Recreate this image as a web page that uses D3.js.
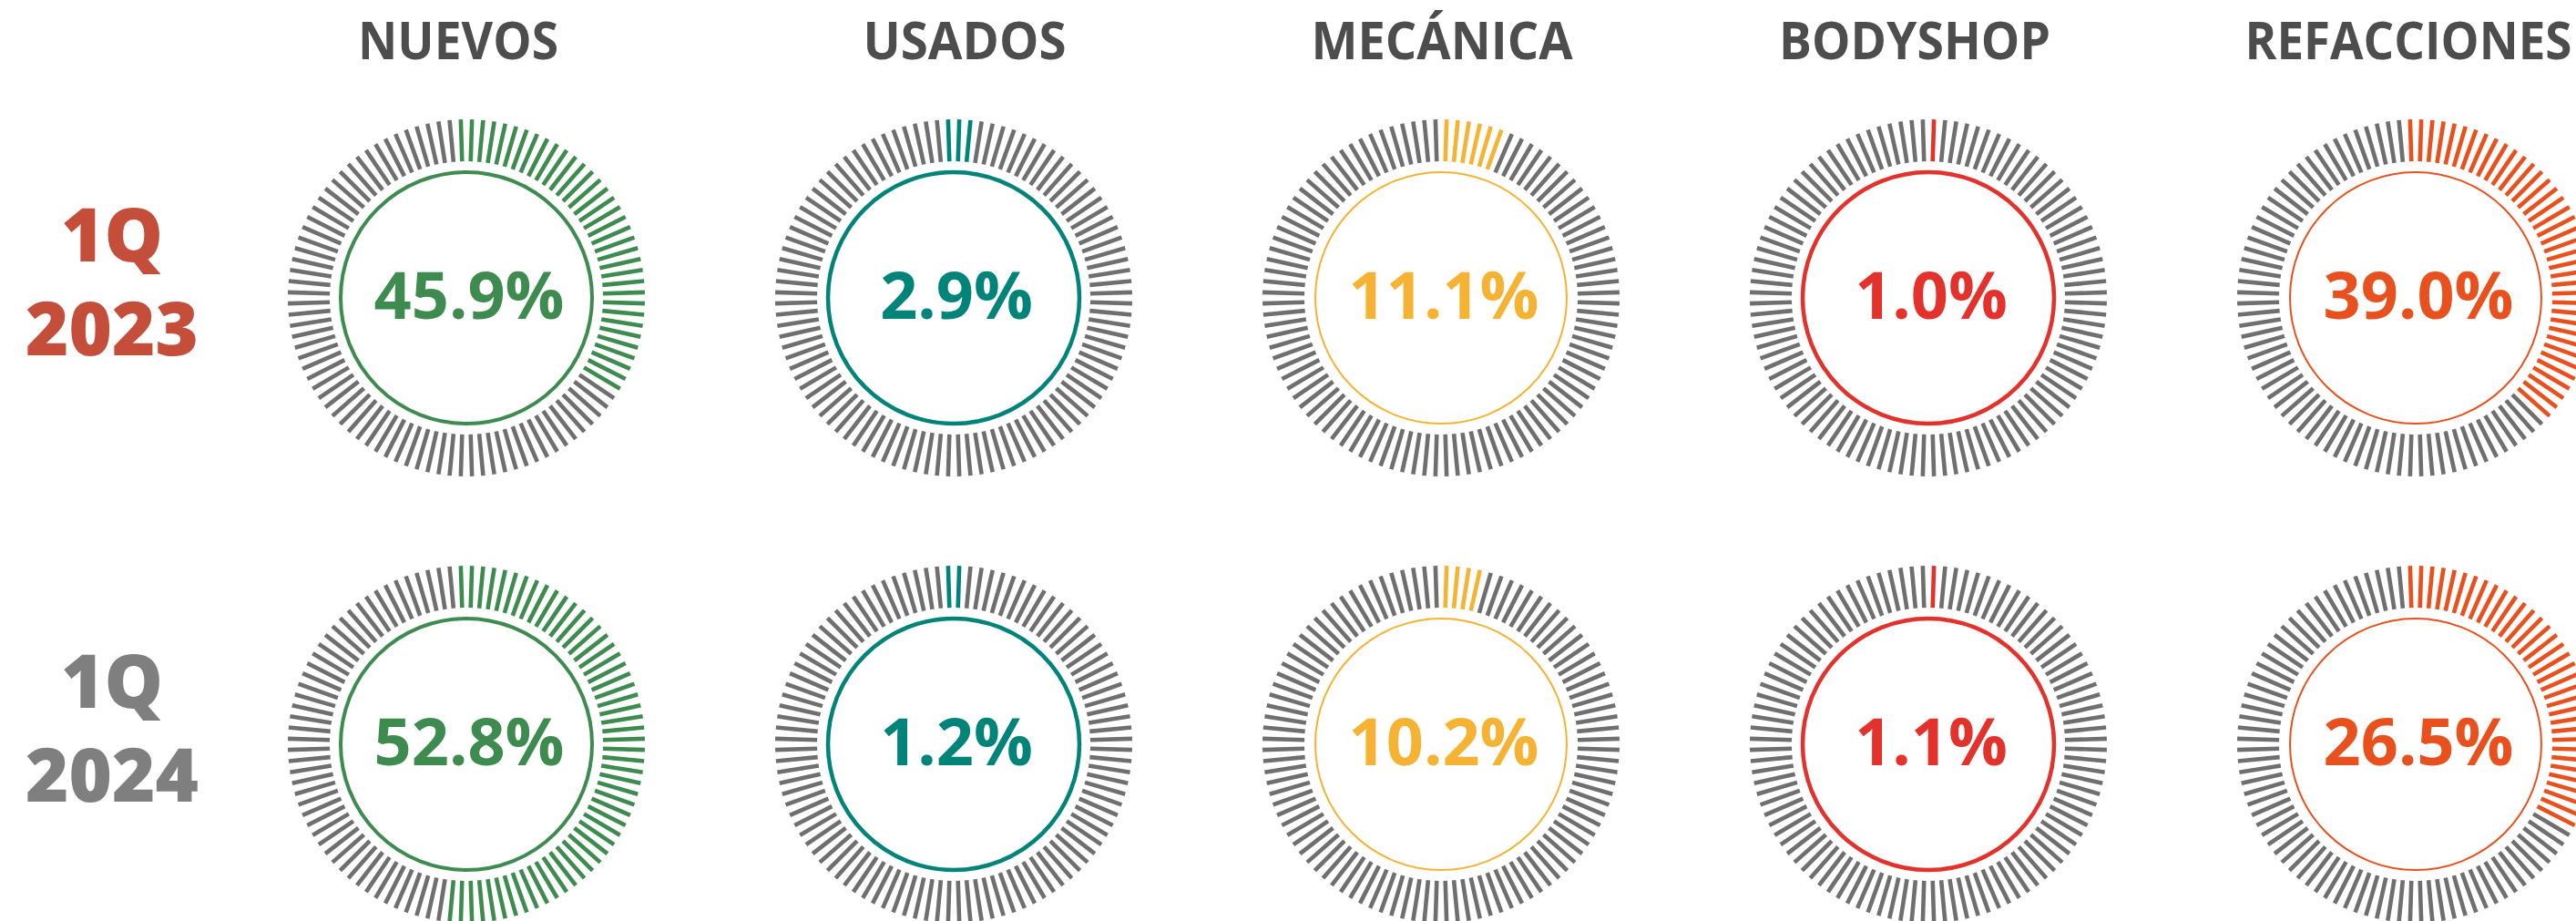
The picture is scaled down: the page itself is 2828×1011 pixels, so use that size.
<!DOCTYPE html>
<html>
<head>
<meta charset="utf-8">
<script src="https://cdn.jsdelivr.net/npm/d3@7"></script>
<style>
  body { margin: 0; background: #ffffff; }
  svg { display: block; }
</style>
</head>
<body>
<script>

// categories and periods
var categories = ["NUEVOS", "USADOS", "MECÁNICA", "BODYSHOP", "REFACCIONES"];
var periodLabels = [["1Q", "2023"], ["1Q", "2024"]];

// share per category, as printed
var values2023 = [45.9, 2.9, 11.1, 1.0, 39.0];
var values2024 = [52.8, 1.2, 10.2, 1.1, 26.5];

// ticks drawn in colour (out of 100)
var litTicks2023 = [35, 3, 6, 1, 38];
var litTicks2024 = [53, 2, 4, 1, 34];
var firstTick = [-1, -1, 0, 0, -1];

window.onload = function() {

    const width = 2828;
    const height = 1011;
    const tickCount = 100;

    var colors = ["#3e8b4f", "#00847a", "#f6b232", "#e3322b", "#e8511e"];
    var ringWidths = [4, 4.5, 2, 4.5, 2];
    var periodColors = ["#c44e3a", "#7f7f7f"];
    var grey = "#6f6f6f";

    // titles are not quite centred over the rings
    var titleShift = [-9, 12, 1, -15, -8];
    var titleWidth = [220, 223, 287, 298, 359];

    var svg = d3.select("body").append("svg")
        .attr("width", width)
        .attr("height", height);

    var xScale = d3.scalePoint()
        .domain(categories)
        .range([512, 2652]);

    var yScale = d3.scalePoint()
        .domain([0, 1])
        .range([327, 817]);

    // angle of each tick, 12 o'clock going clockwise
    var angle = d3.scaleLinear()
        .domain([0, tickCount])
        .range([0, 2 * Math.PI]);

    var rows = [
        {values: values2023, lit: litTicks2023},
        {values: values2024, lit: litTicks2024}
    ];

    var donuts = [];
    rows.forEach(function(row, r) {
        categories.forEach(function(c, i) {
            donuts.push({
                row: r,
                col: i,
                name: c,
                value: row.values[i],
                lit: row.lit[i],
                start: firstTick[i]
            });
        });
    });

    // column titles
    svg.selectAll(".title")
        .data(categories)
        .enter()
        .append("text")
        .attr("class", "title")
        .attr("x", function(d, i) { return xScale(d) + titleShift[i] - titleWidth[i] / 2; })
        .attr("y", 65)
        .attr("textLength", function(d, i) { return titleWidth[i]; })
        .attr("lengthAdjust", "spacingAndGlyphs")
        .attr("font-family", "'Open Sans', sans-serif")
        .attr("font-weight", 700)
        .attr("font-size", "58px")
        .attr("fill", "#4d4d4d")
        .text(function(d) { return d; });

    // period labels on the left
    var period = svg.selectAll(".period")
        .data(periodLabels)
        .enter()
        .append("text")
        .attr("class", "period")
        .attr("text-anchor", "middle")
        .attr("font-family", "'Open Sans', sans-serif")
        .attr("font-weight", 800)
        .attr("font-size", "81px")
        .attr("fill", function(d, i) { return periodColors[i]; });

    period.append("tspan")
        .attr("x", 123)
        .attr("y", function(d, i) { return yScale(i) - 40; })
        .text(function(d) { return d[0]; });

    period.append("tspan")
        .attr("x", 123)
        .attr("y", function(d, i) { return yScale(i) + 63; })
        .text(function(d) { return d[1]; });

    var donut = svg.selectAll(".donut")
        .data(donuts)
        .enter()
        .append("g")
        .attr("class", "donut")
        .attr("transform", function(d) {
            return "translate(" + xScale(d.name) + "," + yScale(d.row) + ")";
        });

    // the 100 radial ticks
    donut.selectAll("line")
        .data(function(d) {
            return d3.range(tickCount).map(function(k) {
                var idx = (k - d.start + tickCount) % tickCount;
                return {k: k, on: idx < d.lit, col: d.col};
            });
        })
        .enter()
        .append("line")
        .attr("x1", function(t) { return 150 * Math.sin(angle(t.k + 0.5)); })
        .attr("y1", function(t) { return -150 * Math.cos(angle(t.k + 0.5)); })
        .attr("x2", function(t) { return 196 * Math.sin(angle(t.k + 0.5)); })
        .attr("y2", function(t) { return -196 * Math.cos(angle(t.k + 0.5)); })
        .attr("stroke", function(t) { return t.on ? colors[t.col] : grey; })
        .attr("stroke-width", 4.6);

    donut.append("circle")
        .attr("r", 138)
        .attr("fill", "none")
        .attr("stroke", function(d) { return colors[d.col]; })
        .attr("stroke-width", function(d) { return ringWidths[d.col]; });

    donut.append("text")
        .attr("x", 3)
        .attr("y", 23)
        .attr("text-anchor", "middle")
        .attr("font-family", "'Open Sans', sans-serif")
        .attr("font-weight", 700)
        .attr("font-size", "72px")
        .attr("fill", function(d) { return colors[d.col]; })
        .text(function(d) { return d.value.toFixed(1) + "%"; });

};
</script>
</body>
</html>
